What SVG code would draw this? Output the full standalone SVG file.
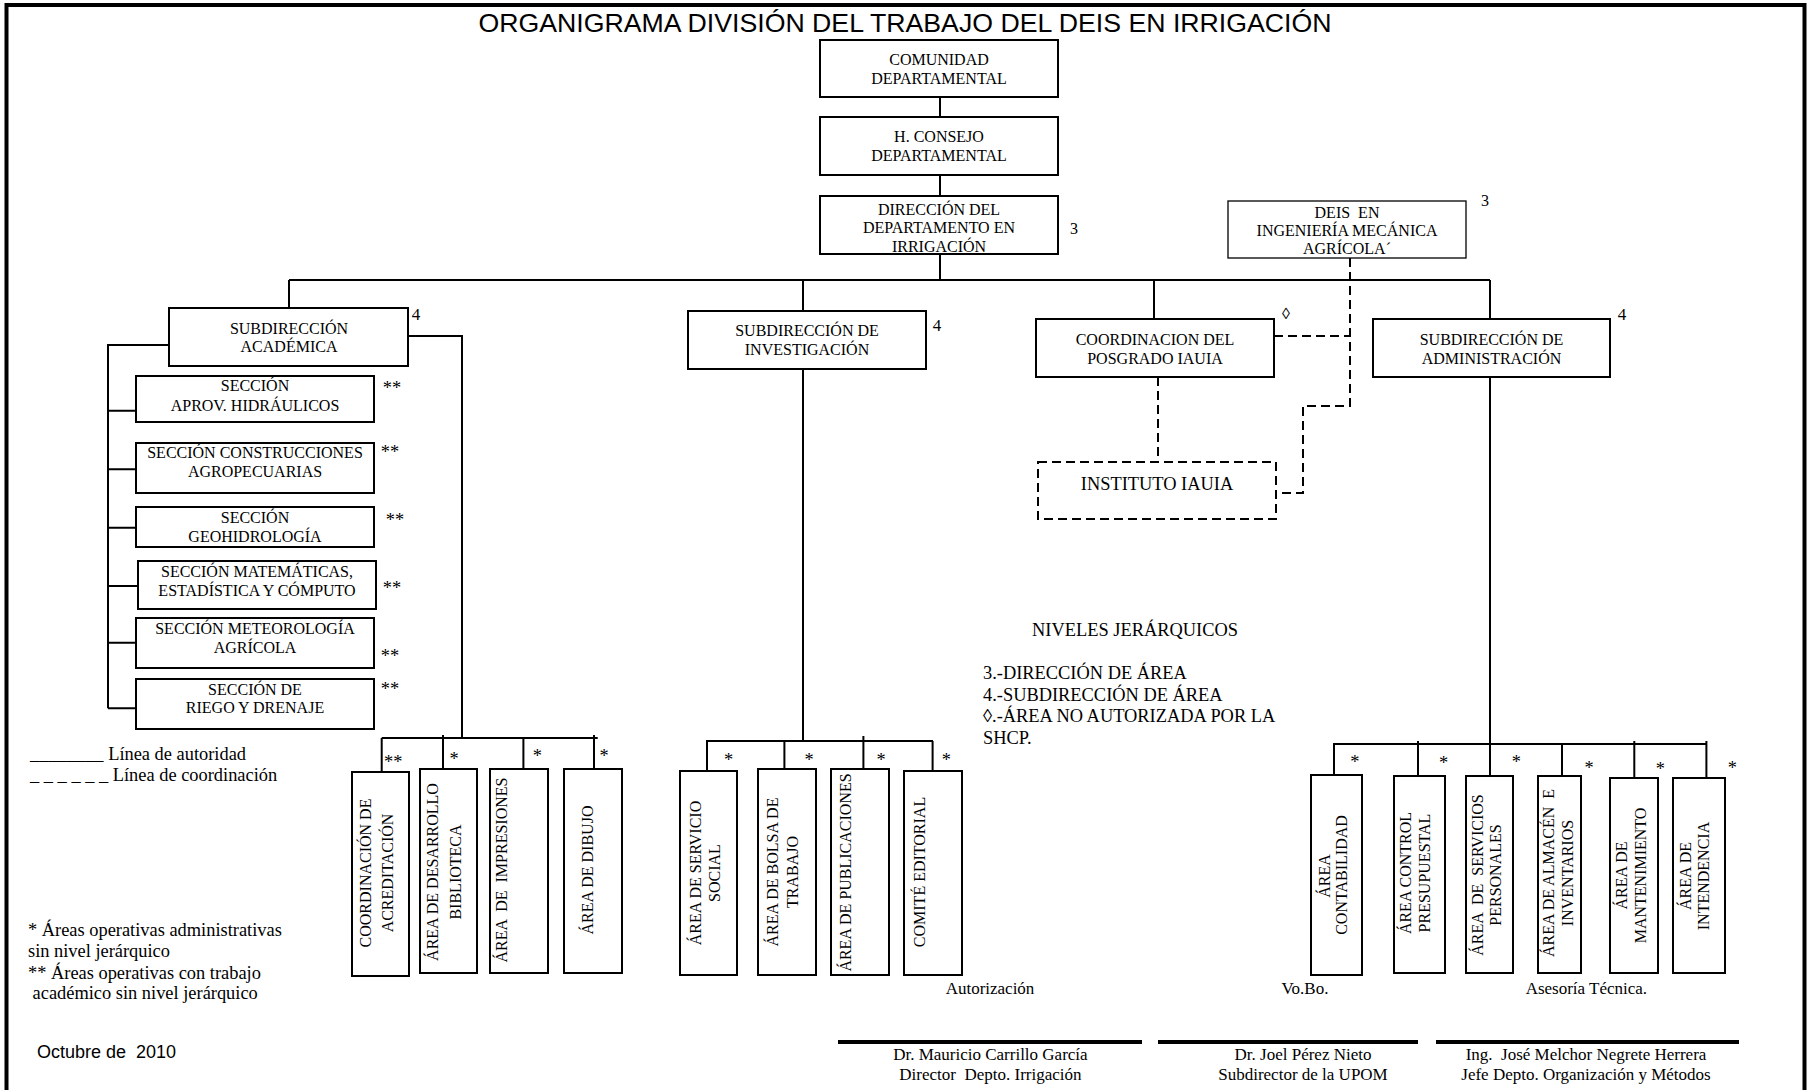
<svg xmlns="http://www.w3.org/2000/svg" width="1807" height="1090" viewBox="0 0 1807 1090">
<style>
.box{fill:#fff;stroke:#000;stroke-width:2}
.thin{fill:#fff;stroke:#000;stroke-width:1.3}
.dbox{fill:#fff;stroke:#000;stroke-width:2;stroke-dasharray:9 5}
.ln{fill:none;stroke:#000;stroke-width:2}
.dl{fill:none;stroke:#000;stroke-width:2;stroke-dasharray:9 5}
.sig{fill:none;stroke:#000;stroke-width:4}
text{font-family:"Liberation Serif","Times New Roman",serif;fill:#000;white-space:pre}
.m{text-anchor:middle}
.f16{font-size:16px}
.f17{font-size:17px}
.f18{font-size:18.4px}
.sans{font-family:"Liberation Sans",Arial,sans-serif}
</style>
<rect x="0" y="0" width="1807" height="1090" fill="#fff"/>
<rect x="6.5" y="5" width="1798" height="1100" fill="none" stroke="#000" stroke-width="4"/>
<text class="sans m" x="905" y="31.5" font-size="26.5" textLength="853" lengthAdjust="spacingAndGlyphs">ORGANIGRAMA DIVISIÓN DEL TRABAJO DEL DEIS EN IRRIGACIÓN</text>

<g id="connectors">
<path class="ln" d="M940 97V117M940 175V196M940 254V280"/>
<path class="ln" stroke-width="2.5" d="M289 280H1490"/>
<path class="ln" d="M289 280V308M803 280V311M1154 280V319M1490 280V319"/>
<path class="ln" d="M169 345H108V708.3M108 410.7H136M108 469.3H136M108 527.7H136M108 586H138M108 642.7H136M108 708.3H136"/>
<path class="ln" d="M408 336H462V738M381.7 738H597.7M381.7 738V772M443 735V769M523.4 738V769M594 735V769"/>
<path class="ln" d="M803 369V741M706 741H933M707 741V771M784.4 741V769M863.4 736V769M932.6 741V771"/>
<path class="ln" d="M1490 377V744M1333 744H1706.4M1334 744V775M1418 741V776M1490 744V776M1562 744V776M1634.3 741V778M1706.4 741V778"/>
<path class="dl" d="M1350 258V406H1303V493H1276M1274 336H1350M1158 377V462"/>
<path class="sig" d="M838 1042H1142M1158 1042H1418M1436 1042H1739"/>
</g>

<g id="n-comunidad"><rect class="box" x="820" y="40" width="238" height="57"/>
<text class="m f16" x="939" y="64.5">COMUNIDAD</text><text class="m f16" x="939" y="83.5">DEPARTAMENTAL</text></g>
<g id="n-consejo"><rect class="box" x="820" y="117" width="238" height="58"/>
<text class="m f16" x="939" y="142">H. CONSEJO</text><text class="m f16" x="939" y="161">DEPARTAMENTAL</text></g>
<g id="n-direccion"><rect class="box" x="820" y="196" width="238" height="58"/>
<text class="m f16" x="939" y="214.5">DIRECCIÓN DEL</text><text class="m f16" x="939" y="233">DEPARTAMENTO EN</text><text class="m f16" x="939" y="251.5">IRRIGACIÓN</text>
<text class="m f16" x="1074" y="234">3</text></g>
<g id="n-deis"><rect class="thin" x="1228" y="201" width="238" height="57"/>
<text class="m f16" x="1347" y="218">DEIS  EN</text><text class="m f16" x="1347" y="236">INGENIERÍA MECÁNICA</text><text class="m f16" x="1347" y="254">AGRÍCOLA´</text>
<text class="m f16" x="1485" y="206">3</text></g>
<g id="n-academica"><rect class="box" x="169" y="308" width="239" height="58"/>
<text class="m f16" x="289" y="333.5">SUBDIRECCIÓN</text><text class="m f16" x="289" y="352">ACADÉMICA</text>
<text class="m f17" x="416" y="320">4</text></g>
<g id="n-investigacion"><rect class="box" x="688" y="311" width="238" height="58"/>
<text class="m f16" x="807" y="336">SUBDIRECCIÓN DE</text><text class="m f16" x="807" y="355">INVESTIGACIÓN</text>
<text class="m f17" x="937" y="331">4</text></g>
<g id="n-posgrado"><rect class="box" x="1036" y="319" width="238" height="58"/>
<text class="m f16" x="1155" y="344.5">COORDINACION DEL</text><text class="m f16" x="1155" y="363.5">POSGRADO IAUIA</text>
<text class="m f16" x="1286" y="319">◊</text></g>
<g id="n-administracion"><rect class="box" x="1373" y="319" width="237" height="58"/>
<text class="m f16" x="1491.5" y="344.5">SUBDIRECCIÓN DE</text><text class="m f16" x="1491.5" y="363.5">ADMINISTRACIÓN</text>
<text class="m f17" x="1622" y="320">4</text></g>
<g id="n-instituto"><rect class="dbox" x="1038" y="462" width="238" height="57"/>
<text class="m f18" x="1157" y="490">INSTITUTO IAUIA</text></g>

<g id="n-sec1"><rect class="box" x="136" y="376" width="238" height="46"/>
<text class="m f16" x="255" y="391">SECCIÓN</text><text class="m f16" x="255" y="411">APROV. HIDRÁULICOS</text><text class="m f18" x="392" y="393.5">**</text></g>
<g id="n-sec2"><rect class="box" x="136" y="443" width="238" height="50"/>
<text class="m f16" x="255" y="458">SECCIÓN CONSTRUCCIONES</text><text class="m f16" x="255" y="477">AGROPECUARIAS</text><text class="m f18" x="390" y="457.5">**</text></g>
<g id="n-sec3"><rect class="box" x="136" y="507" width="238" height="40"/>
<text class="m f16" x="255" y="523">SECCIÓN</text><text class="m f16" x="255" y="542">GEOHIDROLOGÍA</text><text class="m f18" x="395" y="525.5">**</text></g>
<g id="n-sec4"><rect class="box" x="138" y="561" width="238" height="48"/>
<text class="m f16" x="257" y="577">SECCIÓN MATEMÁTICAS,</text><text class="m f16" x="257" y="596">ESTADÍSTICA Y CÓMPUTO</text><text class="m f18" x="392" y="593.5">**</text></g>
<g id="n-sec5"><rect class="box" x="136" y="618" width="238" height="50"/>
<text class="m f16" x="255" y="634">SECCIÓN METEOROLOGÍA</text><text class="m f16" x="255" y="653">AGRÍCOLA</text><text class="m f18" x="390" y="661.5">**</text></g>
<g id="n-sec6"><rect class="box" x="136" y="679" width="238" height="50"/>
<text class="m f16" x="255" y="695">SECCIÓN DE</text><text class="m f16" x="255" y="713">RIEGO Y DRENAJE</text><text class="m f18" x="390" y="694.5">**</text></g>

<g id="n-acreditacion"><rect class="box" x="352" y="772" width="57" height="204"/>
<text class="m f16" transform="translate(370.5 873) rotate(-90)">COORDINACIÓN DE</text><text class="m f16" transform="translate(393 873) rotate(-90)">ACREDITACIÓN</text>
<text class="m f18" x="393.3" y="768">**</text></g>
<g id="n-biblioteca"><rect class="box" x="420" y="769" width="57" height="204"/>
<text class="m f16" transform="translate(438 872) rotate(-90)">ÁREA DE DESARROLLO</text><text class="m f16" transform="translate(460.5 872) rotate(-90)">BIBLIOTECA</text>
<text class="m f18" x="454" y="765">*</text></g>
<g id="n-impresiones"><rect class="box" x="490" y="769" width="58" height="204"/>
<text class="m f16" transform="translate(507 870) rotate(-90)">ÁREA  DE  IMPRESIONES</text>
<text class="m f18" x="537.3" y="761.5">*</text></g>
<g id="n-dibujo"><rect class="box" x="564" y="769" width="58" height="204"/>
<text class="m f16" transform="translate(593 870) rotate(-90)">ÁREA DE DIBUJO</text>
<text class="m f18" x="604" y="761.5">*</text></g>

<g id="n-servicio"><rect class="box" x="680" y="771" width="57" height="204"/>
<text class="m f16" transform="translate(701 873) rotate(-90)">ÁREA DE SERVICIO</text><text class="m f16" transform="translate(719.5 873) rotate(-90)">SOCIAL</text>
<text class="m f18" x="728.6" y="766">*</text></g>
<g id="n-bolsa"><rect class="box" x="758" y="769" width="58" height="206"/>
<text class="m f16" transform="translate(777.5 872) rotate(-90)">ÁREA DE BOLSA DE</text><text class="m f16" transform="translate(797.5 872) rotate(-90)">TRABAJO</text>
<text class="m f18" x="809" y="766">*</text></g>
<g id="n-publicaciones"><rect class="box" x="831" y="769" width="58" height="206"/>
<text class="m f16" transform="translate(850.5 872.5) rotate(-90)">ÁREA DE PUBLICACIONES</text>
<text class="m f18" x="881" y="766">*</text></g>
<g id="n-editorial"><rect class="box" x="904" y="771" width="58" height="204"/>
<text class="m f16" transform="translate(924.5 872) rotate(-90)">COMITÉ EDITORIAL</text>
<text class="m f18" x="946.4" y="766">*</text></g>

<g id="n-contabilidad"><rect class="box" x="1311" y="775" width="51" height="200"/>
<text class="m f16" transform="translate(1330 876) rotate(-90)">ÁREA</text><text class="m f16" transform="translate(1347 875) rotate(-90)">CONTABILIDAD</text>
<text class="m f18" x="1354.8" y="767.5">*</text></g>
<g id="n-presupuestal"><rect class="box" x="1394" y="776" width="51" height="197"/>
<text class="m f16" transform="translate(1410.7 873) rotate(-90)">ÁREA CONTROL</text><text class="m f16" transform="translate(1429.5 873) rotate(-90)">PRESUPUESTAL</text>
<text class="m f18" x="1443.6" y="768.5">*</text></g>
<g id="n-personales"><rect class="box" x="1466" y="776" width="47" height="197"/>
<text class="m f16" transform="translate(1482.8 875) rotate(-90)">ÁREA  DE  SERVICIOS</text><text class="m f16" transform="translate(1501.3 875) rotate(-90)">PERSONALES</text>
<text class="m f18" x="1516.4" y="767.5">*</text></g>
<g id="n-almacen"><rect class="box" x="1538" y="776" width="43" height="197"/>
<text class="m f16" transform="translate(1554 873) rotate(-90)">ÁREA DE ALMACÉN  E</text><text class="m f16" transform="translate(1572.7 873) rotate(-90)">INVENTARIOS</text>
<text class="m f18" x="1589.2" y="773.5">*</text></g>
<g id="n-mantenimiento"><rect class="box" x="1610" y="778" width="48" height="195"/>
<text class="m f16" transform="translate(1626.7 875.5) rotate(-90)">ÁREA DE</text><text class="m f16" transform="translate(1646.2 875.5) rotate(-90)">MANTENIMIENTO</text>
<text class="m f18" x="1660.3" y="775">*</text></g>
<g id="n-intendencia"><rect class="box" x="1673" y="778" width="52" height="195"/>
<text class="m f16" transform="translate(1690.5 876) rotate(-90)">ÁREA DE</text><text class="m f16" transform="translate(1708.5 876) rotate(-90)">INTENDENCIA</text>
<text class="m f18" x="1732.4" y="773.5">*</text></g>

<g id="legend">
<text class="f18" x="30" y="760">________ Línea de autoridad</text>
<text class="f18" x="30" y="781">_ _ _ _ _ _ Línea de coordinación</text>
<text class="f18" x="28" y="936">* Áreas operativas administrativas</text>
<text class="f18" x="28" y="956.5">sin nivel jerárquico</text>
<text class="f18" x="28" y="978.5">** Áreas operativas con trabajo</text>
<text class="f18" x="28" y="999"> académico sin nivel jerárquico</text>
<text class="sans" font-size="18" x="37" y="1058">Octubre de  2010</text>
</g>
<g id="niveles">
<text class="m f18" x="1135" y="636">NIVELES JERÁRQUICOS</text>
<text class="f18" x="983" y="679">3.-DIRECCIÓN DE ÁREA</text>
<text class="f18" x="983" y="701">4.-SUBDIRECCIÓN DE ÁREA</text>
<text class="f18" x="983" y="722">◊.-ÁREA NO AUTORIZADA POR LA</text>
<text class="f18" x="983" y="744">SHCP.</text>
</g>
<g id="firmas">
<text class="m f17" x="990" y="994">Autorización</text>
<text class="m f17" x="1305" y="994">Vo.Bo.</text>
<text class="m f17" x="1586.4" y="994">Asesoría Técnica.</text>
<text class="m f17" x="990.4" y="1060">Dr. Mauricio Carrillo García</text>
<text class="m f17" x="990.4" y="1080">Director  Depto. Irrigación</text>
<text class="m f17" x="1303" y="1060">Dr. Joel Pérez Nieto</text>
<text class="m f17" x="1303" y="1080">Subdirector de la UPOM</text>
<text class="m f17" x="1586" y="1060">Ing.  José Melchor Negrete Herrera</text>
<text class="m f17" x="1586" y="1080">Jefe Depto. Organización y Métodos</text>
</g>
</svg>
